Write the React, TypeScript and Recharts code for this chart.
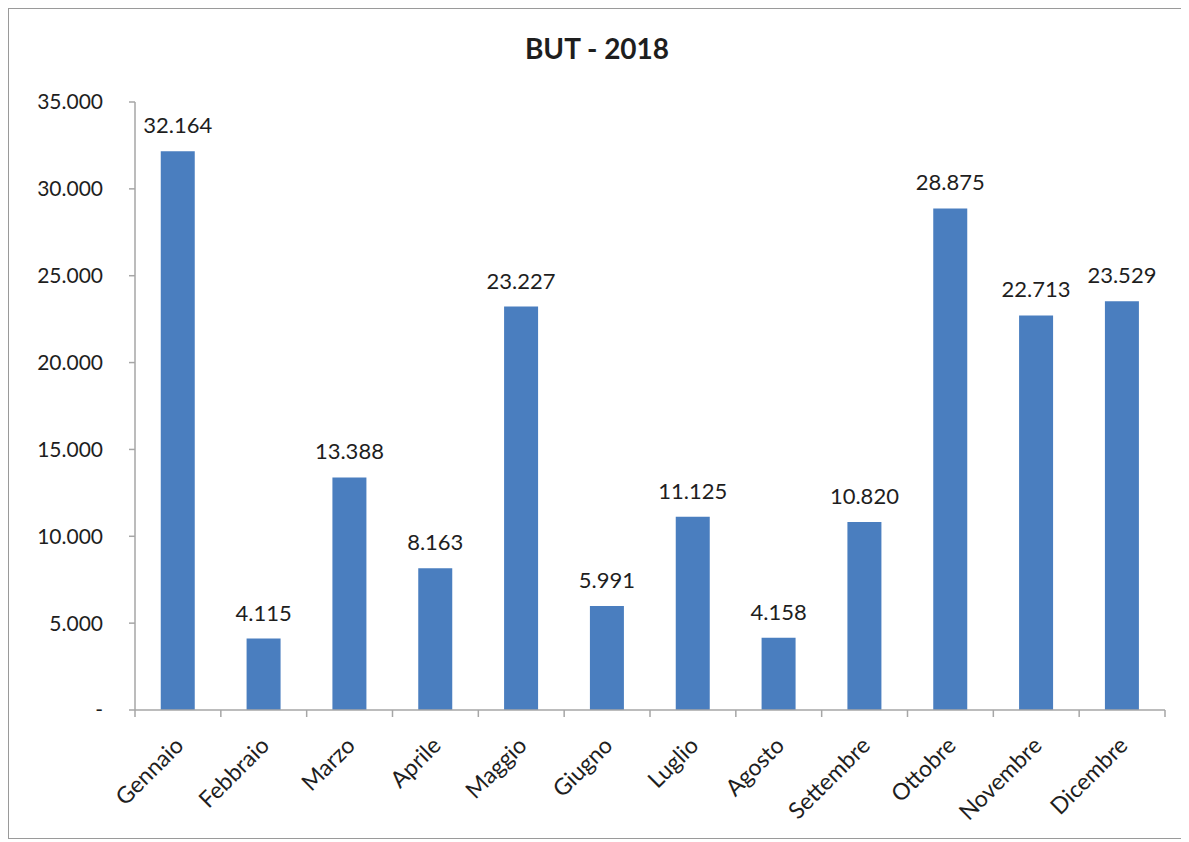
import React from "react";
import { BarChart, Bar, XAxis, YAxis, LabelList } from "recharts";

const months = [
  "Gennaio",
  "Febbraio",
  "Marzo",
  "Aprile",
  "Maggio",
  "Giugno",
  "Luglio",
  "Agosto",
  "Settembre",
  "Ottobre",
  "Novembre",
  "Dicembre",
];
const values = [32164, 4115, 13388, 8163, 23227, 5991, 11125, 4158, 10820, 28875, 22713, 23529];
const yTicks = [0, 5000, 10000, 15000, 20000, 25000, 30000, 35000];

const data = months.map((m, i) => ({ name: m, value: values[i] }));

const W = 1176;
const H = 829;
const margin = { top: 93, right: 18, bottom: 96, left: 0 };
const yAxisWidth = 126;
const band = (W - 2 - margin.left - yAxisWidth - margin.right) / months.length;

const font = "Lato, 'Open Sans', sans-serif";
const axisColor = "#a6a6a6";
const textColor = "#1e1e1e";

const fmt = (v: number) =>
  v === 0 ? "-" : String(Math.round(v)).replace(/\B(?=(\d{3})+(?!\d))/g, ".");

const MonthTick = (props: any) => {
  const { x, y, payload, index } = props;
  const left = x - band / 2;
  const right = x + band / 2;
  return (
    <g>
      <line x1={left} y1={y - 8} x2={left} y2={y - 1} stroke={axisColor} strokeWidth={1.5} />
      {index === months.length - 1 && (
        <line x1={right} y1={y - 8} x2={right} y2={y - 1} stroke={axisColor} strokeWidth={1.5} />
      )}
      <text
        x={x + 7}
        y={y + 29}
        textAnchor="end"
        fill={textColor}
        fontSize={23}
        fontFamily={font}
        transform={`rotate(-45, ${x + 7}, ${y + 29})`}
      >
        {payload.value}
      </text>
    </g>
  );
};

export default function App() {
  return (
    <div
      style={{
        position: "relative",
        width: W,
        height: H,
        border: "1.5px solid #9a9a9a",
        background: "#fff",
        fontFamily: font,
      }}
    >
      <div
        style={{
          position: "absolute",
          top: 22,
          left: 0,
          width: "100%",
          textAlign: "center",
          fontSize: 28,
          fontWeight: 700,
          color: textColor,
        }}
      >
        BUT - 2018
      </div>
      <BarChart width={W - 2} height={H - 2} data={data} margin={margin} barCategoryGap="30%">
        <XAxis
          dataKey="name"
          height={30}
          interval={0}
          tickLine={false}
          axisLine={{ stroke: axisColor, strokeWidth: 1.5 }}
          tick={<MonthTick />}
        />
        <YAxis
          width={yAxisWidth}
          domain={[0, 35000]}
          ticks={yTicks}
          tickFormatter={fmt}
          tickSize={6}
          tickMargin={26}
          axisLine={{ stroke: axisColor, strokeWidth: 1.5 }}
          tickLine={{ stroke: axisColor, strokeWidth: 1.5 }}
          tick={{ fill: textColor, fontSize: 21, fontFamily: font }}
        />
        <Bar dataKey="value" fill="#4a7ebf" isAnimationActive={false}>
          <LabelList
            dataKey="value"
            position="top"
            offset={18}
            formatter={(v: any) => fmt(Number(v))}
            fill={textColor}
            fontSize={22}
            fontFamily={font}
          />
        </Bar>
      </BarChart>
    </div>
  );
}
